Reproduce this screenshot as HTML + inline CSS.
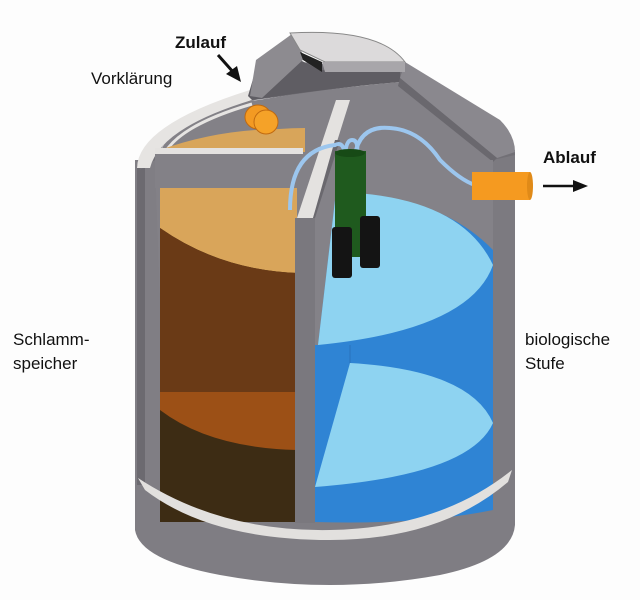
<!DOCTYPE html>
<html><head><meta charset="utf-8"><style>
html,body{margin:0;padding:0;background:#fff;}
svg{display:block}
text{font-family:"Liberation Sans",sans-serif;fill:#111}
</style></head><body>
<svg width="640" height="600" viewBox="0 0 640 600" xmlns="http://www.w3.org/2000/svg">
<rect width="640" height="600" fill="#fdfdfd"/>
<!-- outer bottom base -->
<path d="M135 470 L135 530 Q140 560 220 575 Q330 595 440 575 Q512 560 515 525 L515 465 Z" fill="#7f7d83"/>
<!-- outer walls -->
<rect x="135" y="160" width="25" height="330" fill="#807e84"/>
<rect x="137" y="165" width="8" height="320" fill="#6c6a70"/>
<rect x="493" y="150" width="22" height="330" fill="#7c7a80"/>
<!-- dome interior -->
<path d="M140 170 Q145 125 250 95 L300 62 L405 70 L500 125 Q515 140 515 155 L493 160 L400 80 Q330 90 255 100 Q170 120 155 160 Z" fill="#727076"/>
<path d="M155 165 Q170 110 258 100 Q330 88 400 82 L493 160 L493 300 L160 300 Z" fill="#838187"/>
<!-- white outer rim -->
<path d="M137 168 Q138 125 250 90 L252 100 Q160 128 150 168 Z" fill="#e6e4e2"/>
<path d="M160 168 Q163 130 252 104" stroke="#e6e4e2" stroke-width="3" fill="none"/>
<!-- shaft -->
<path d="M248 96 L258 62 L292 34 L300 60 L320 70 L400 70 L400 82 Q330 88 252 100 Z" fill="#5f5d63"/>
<path d="M292 34 L305 58 L262 98 L250 96 L256 60 Z" fill="#8d8b90"/>
<!-- right roof band -->
<path d="M405 62 L500 120 Q515 135 515 152 L497 158 L400 78 Z" fill="#8a888e"/>
<path d="M400 78 L497 158 L493 162 L398 86 Z" fill="#6a686e"/>
<!-- lid -->
<path d="M290 33 Q380 28 405 62 L325 62 L300 50 Z" fill="#dcdadb" stroke="#888" stroke-width="1"/>
<path d="M322 62 L405 62 L405 72 L325 72 Z" fill="#a8a6aa"/>
<path d="M300 52 L322 62 L322 72 L303 60 Z" fill="#222"/>
<!-- left chamber tan top surface -->
<path d="M160 150 Q230 125 305 130 L305 188 L160 188 Z" fill="#d8a55a"/>
<rect x="155" y="152" width="150" height="36" fill="#838187"/>
<path d="M185 152 Q240 128 305 128 L305 152 Z" fill="#d8a55a"/>
<rect x="155" y="148" width="148" height="6" fill="#e4e2e0"/>
<!-- left chamber -->
<path d="M160 188 L297 188 L297 522 L160 522 Z" fill="#3d2c14"/>
<path d="M160 188 L297 188 L297 273 Q220 270 160 228 Z" fill="#d9a55a"/>
<path d="M160 228 Q220 270 297 273 L297 392 L160 392 Z" fill="#6a3a16"/>
<path d="M160 392 L297 392 L297 450 Q210 448 160 410 Z" fill="#9c5016"/>
<!-- right chamber -->
<path d="M315 160 L493 160 L493 510 Q420 525 315 522 Z" fill="#2f84d4"/>
<path d="M315 160 L493 160 L493 250 Q440 195 336 192 L318 345 L315 345 Z" fill="#848288"/>
<path d="M336 192 Q460 195 493 265 Q470 330 318 345 Z" fill="#8ed3f1"/>
<path d="M350 363 Q470 370 493 423 Q470 475 315 487 Z" fill="#8ed3f1"/>
<line x1="350" y1="345" x2="350" y2="363" stroke="#2a72bc" stroke-width="1"/>
<!-- divider -->
<rect x="295" y="218" width="20" height="305" fill="#7a787e"/>
<path d="M297 218 L313 218 L350 100 L336 100 Z" fill="#e4e2e0"/>
<path d="M313 218 L315 218 L340 140 L335 140 Z" fill="#6a686e"/>
<!-- white bottom band -->
<path d="M138 478 Q220 532 330 530 Q440 528 512 470 L508 482 Q440 540 330 540 Q210 540 145 490 Z" fill="#e2e0de"/>
<!-- pipes -->
<path d="M290 210 Q290 150 335 145 Q345 140 345 160" stroke="#9cc6ee" stroke-width="4" fill="none"/>
<path d="M345 160 Q345 140 352 140 Q360 140 356 160" stroke="#9cc6ee" stroke-width="4" fill="none"/>
<path d="M355 155 Q360 125 390 128 Q420 130 440 160 Q460 180 475 185" stroke="#9cc6ee" stroke-width="4" fill="none"/>
<!-- pump -->
<rect x="335" y="151" width="31" height="106" fill="#1f5a1e"/>
<ellipse cx="350" cy="153" rx="15" ry="4" fill="#174a16"/>
<rect x="332" y="227" width="20" height="51" rx="3" fill="#141414"/>
<rect x="360" y="216" width="20" height="52" rx="3" fill="#141414"/>
<!-- orange cylinder -->
<ellipse cx="258" cy="117" rx="13" ry="12" fill="#f39a22" stroke="#c06a10" stroke-width="1"/>
<ellipse cx="266" cy="122" rx="12" ry="12" fill="#f5a228" stroke="#c06a10" stroke-width="1"/>
<!-- Ablauf pipe -->
<rect x="472" y="172" width="58" height="28" fill="#f59a20"/>
<ellipse cx="530" cy="186" rx="3" ry="14" fill="#e08a18"/>
<!-- labels -->
<text x="175" y="48" font-size="17" font-weight="bold">Zulauf</text>
<line x1="218" y1="55" x2="234" y2="73" stroke="#111" stroke-width="3"/>
<polygon points="241,82 226,74 237,66" fill="#111"/>
<text x="91" y="84" font-size="17">Vorklärung</text>
<text x="543" y="163" font-size="17" font-weight="bold">Ablauf</text>
<line x1="543" y1="186" x2="575" y2="186" stroke="#111" stroke-width="2.5"/>
<polygon points="588,186 573,180 573,192" fill="#111"/>
<text x="13" y="345" font-size="17">Schlamm-</text>
<text x="13" y="369" font-size="17">speicher</text>
<text x="525" y="345" font-size="17">biologische</text>
<text x="525" y="369" font-size="17">Stufe</text>
</svg>
</body></html>
